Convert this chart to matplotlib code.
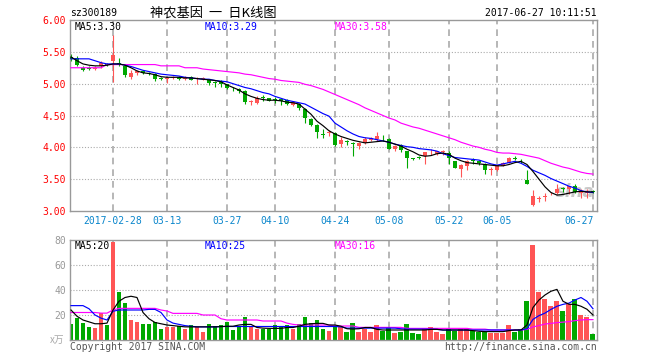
import matplotlib
matplotlib.use('Agg')
import matplotlib.pyplot as plt
import matplotlib.transforms as mtransforms
import numpy as np

# ---------------- data ----------------
opens = [5.42, 5.41, 5.25, 5.24, 5.23, 5.28, 5.31, 5.35, 5.33, 5.28,
         5.10, 5.16, 5.20, 5.17, 5.15, 5.09, 5.08, 5.09, 5.10, 5.08,
         5.10, 5.07, 5.07, 5.06, 5.03, 5.04, 4.99, 4.92, 4.92, 4.89,
         4.71, 4.70, 4.78, 4.77, 4.76, 4.76, 4.75, 4.67, 4.68, 4.60,
         4.44, 4.35, 4.20, 4.22, 4.23, 4.05, 4.09, 4.07, 4.02, 4.07,
         4.12, 4.13, 4.15, 4.13, 3.97, 4.03, 3.94, 3.83, 3.85, 3.86,
         3.92, 3.90, 3.92, 3.91, 3.78, 3.66, 3.71, 3.80, 3.79, 3.74,
         3.64, 3.65, 3.71, 3.76, 3.84, 3.82, 3.48, 3.09, 3.19, 3.22,
         3.26, 3.29, 3.35, 3.35, 3.39, 3.28, 3.29, 3.31]
closes = [5.38, 5.29, 5.22, 5.23, 5.25, 5.32, 5.29, 5.45, 5.31, 5.14,
          5.16, 5.20, 5.17, 5.15, 5.08, 5.08, 5.09, 5.11, 5.08, 5.09,
          5.06, 5.08, 5.09, 5.01, 5.01, 5.00, 4.93, 4.91, 4.88, 4.71,
          4.72, 4.78, 4.77, 4.73, 4.75, 4.73, 4.68, 4.71, 4.62, 4.46,
          4.35, 4.24, 4.19, 4.23, 4.04, 4.11, 4.08, 4.06, 4.07, 4.13,
          4.14, 4.18, 4.14, 3.98, 4.02, 3.96, 3.83, 3.82, 3.84, 3.92,
          3.93, 3.94, 3.94, 3.83, 3.68, 3.72, 3.79, 3.78, 3.75, 3.64,
          3.65, 3.72, 3.75, 3.84, 3.81, 3.81, 3.43, 3.23, 3.20, 3.24,
          3.27, 3.35, 3.34, 3.39, 3.30, 3.30, 3.30, 3.30]
highs = [5.46, 5.43, 5.28, 5.27, 5.27, 5.35, 5.33, 5.76, 5.40, 5.30,
         5.21, 5.22, 5.21, 5.18, 5.16, 5.10, 5.10, 5.12, 5.12, 5.12,
         5.12, 5.10, 5.10, 5.08, 5.04, 5.05, 5.00, 4.94, 4.93, 4.90,
         4.74, 4.81, 4.82, 4.78, 4.79, 4.76, 4.76, 4.72, 4.70, 4.61,
         4.46, 4.36, 4.29, 4.28, 4.24, 4.16, 4.12, 4.08, 4.08, 4.16,
         4.16, 4.24, 4.19, 4.15, 4.03, 4.05, 3.95, 3.84, 3.86, 3.93,
         3.97, 3.95, 3.96, 3.94, 3.79, 3.74, 3.80, 3.83, 3.80, 3.76,
         3.69, 3.73, 3.77, 3.85, 3.87, 3.82, 3.64, 3.33, 3.24, 3.28,
         3.30, 3.43, 3.38, 3.40, 3.43, 3.35, 3.34, 3.33]
lows = [5.36, 5.28, 5.20, 5.22, 5.22, 5.25, 5.27, 5.03, 5.27, 5.11,
        5.08, 5.14, 5.15, 5.13, 5.04, 5.06, 5.01, 5.07, 5.05, 5.06,
        5.05, 5.00, 5.05, 4.98, 4.95, 4.94, 4.92, 4.89, 4.85, 4.68,
        4.67, 4.68, 4.72, 4.72, 4.70, 4.67, 4.67, 4.65, 4.59, 4.39,
        4.33, 4.14, 4.15, 4.18, 4.02, 4.00, 4.03, 3.87, 3.97, 4.05,
        4.10, 4.10, 4.10, 3.97, 3.95, 3.93, 3.68, 3.80, 3.82, 3.74,
        3.88, 3.88, 3.88, 3.74, 3.67, 3.53, 3.64, 3.74, 3.73, 3.58,
        3.56, 3.63, 3.70, 3.75, 3.80, 3.76, 3.42, 3.08, 3.14, 3.16,
        3.25, 3.27, 3.30, 3.27, 3.28, 3.20, 3.20, 3.28]
volumes = [12.8, 17.9, 13.9, 10.7, 9.9, 21.3, 12.0, 78.7, 38.4, 29.9,
           16.0, 14.7, 12.8, 12.8, 14.4, 8.8, 10.7, 10.7, 11.2, 9.1,
           12.3, 10.7, 6.7, 12.8, 11.5, 12.0, 14.1, 8.0, 10.1, 18.1,
           10.7, 8.8, 8.8, 8.8, 12.0, 10.1, 12.0, 8.8, 12.8, 18.4,
           13.3, 16.0, 8.8, 7.2, 11.2, 10.1, 6.7, 13.3, 6.7, 8.5,
           6.7, 12.0, 7.5, 10.1, 5.9, 6.4, 12.8, 5.6, 4.8, 9.3,
           10.1, 6.7, 4.8, 8.8, 7.5, 8.8, 8.8, 7.5, 6.7, 6.7,
           5.9, 5.9, 5.9, 12.0, 6.7, 8.8, 31.2, 76.0, 38.4, 33.1,
           27.2, 31.2, 23.2, 28.8, 32.5, 20.0, 18.7, 4.8]
ma5 = [5.42, 5.36, 5.31, 5.29, 5.28, 5.28, 5.29, 5.31, 5.31, 5.29,
       5.25, 5.20, 5.17, 5.16, 5.14, 5.11, 5.10, 5.10, 5.10, 5.09,
       5.09, 5.08, 5.07, 5.06, 5.05, 5.03, 4.98, 4.94, 4.90, 4.84,
       4.80, 4.77, 4.75, 4.74, 4.74, 4.73, 4.71, 4.70, 4.68, 4.60,
       4.52, 4.41, 4.34, 4.26, 4.21, 4.17, 4.14, 4.11, 4.09, 4.07,
       4.08, 4.09, 4.10, 4.08, 4.05, 4.02, 3.97, 3.93, 3.88, 3.86,
       3.87, 3.90, 3.91, 3.89, 3.83, 3.79, 3.76, 3.75, 3.74, 3.73,
       3.72, 3.71, 3.71, 3.73, 3.76, 3.78, 3.73, 3.62, 3.50, 3.38,
       3.29, 3.25, 3.26, 3.28, 3.30, 3.31, 3.30, 3.30]
ma10 = [5.39, 5.39, 5.39, 5.39, 5.36, 5.33, 5.31, 5.31, 5.31, 5.29,
        5.27, 5.24, 5.21, 5.19, 5.17, 5.15, 5.14, 5.13, 5.12, 5.10,
        5.09, 5.08, 5.07, 5.07, 5.05, 5.04, 5.03, 5.00, 4.97, 4.94,
        4.92, 4.89, 4.86, 4.84, 4.80, 4.77, 4.74, 4.72, 4.70, 4.68,
        4.63, 4.58, 4.53, 4.49, 4.38, 4.32, 4.26, 4.21, 4.17, 4.15,
        4.14, 4.12, 4.10, 4.08, 4.05, 4.03, 4.01, 4.00, 3.98, 3.97,
        3.96, 3.94, 3.90, 3.87, 3.84, 3.83, 3.82, 3.81, 3.80, 3.77,
        3.74, 3.72, 3.74, 3.76, 3.78, 3.75, 3.70, 3.64, 3.60, 3.56,
        3.51, 3.47, 3.43, 3.39, 3.36, 3.32, 3.30, 3.29]
ma30 = [5.25, 5.25, 5.25, 5.25, 5.25, 5.25, 5.30, 5.30, 5.30, 5.30,
        5.30, 5.30, 5.30, 5.30, 5.30, 5.28, 5.28, 5.28, 5.28, 5.25,
        5.25, 5.25, 5.23, 5.22, 5.21, 5.20, 5.19, 5.18, 5.17, 5.15,
        5.14, 5.12, 5.10, 5.08, 5.07, 5.05, 5.04, 5.03, 5.02, 4.99,
        4.97, 4.94, 4.91, 4.87, 4.83, 4.79, 4.75, 4.71, 4.67, 4.62,
        4.58, 4.54, 4.50, 4.46, 4.43, 4.38, 4.35, 4.32, 4.30, 4.27,
        4.24, 4.21, 4.18, 4.15, 4.12, 4.08, 4.05, 4.02, 4.00, 3.97,
        3.95, 3.92, 3.91, 3.91, 3.90, 3.89, 3.87, 3.85, 3.83, 3.79,
        3.75, 3.72, 3.69, 3.67, 3.64, 3.61, 3.59, 3.58]
vma5 = [24.0, 19.0, 16.0, 14.5, 13.0, 13.0, 13.5, 24.0, 31.0, 34.0,
        35.0, 34.0, 22.0, 17.0, 14.0, 13.0, 12.0, 11.5, 11.0, 10.5,
        10.5, 10.5, 10.5, 10.5, 10.5, 10.7, 11.0, 11.0, 12.0, 12.5,
        12.5, 10.0, 9.5, 9.3, 9.3, 9.3, 10.0, 10.0, 11.0, 12.5,
        13.0, 13.3, 13.3, 12.0, 12.0, 11.0, 9.0, 8.8, 9.0, 10.0,
        10.0, 8.5, 8.0, 8.0, 8.0, 8.0, 8.0, 8.0, 8.0, 8.0,
        8.5, 8.5, 8.0, 8.0, 8.0, 8.0, 8.0, 7.5, 7.0, 6.7,
        6.7, 6.7, 6.7, 7.5, 8.0, 8.0, 12.0, 26.0, 32.0, 36.0,
        39.0, 40.5, 31.0, 28.6, 28.5, 27.0, 24.6, 20.0]
vma10 = [27.5, 27.5, 27.5, 25.0, 20.0, 17.5, 16.0, 23.0, 24.0, 24.0,
         24.0, 24.0, 24.0, 24.5, 24.5, 22.0, 16.0, 13.5, 12.5, 11.5,
         11.0, 10.5, 10.5, 10.5, 10.5, 10.8, 10.8, 10.8, 10.8, 10.8,
         10.8, 10.8, 10.8, 10.8, 10.8, 10.8, 10.8, 10.8, 10.8, 10.8,
         10.8, 10.8, 10.8, 10.8, 10.8, 10.5, 9.5, 9.5, 9.5, 9.5,
         9.5, 9.5, 9.5, 9.5, 9.5, 9.0, 8.7, 8.7, 8.7, 8.7,
         8.7, 8.5, 8.0, 8.0, 8.0, 8.0, 8.0, 8.0, 8.0, 8.0,
         8.0, 8.0, 8.0, 8.0, 8.0, 8.0, 9.0, 16.5, 19.5, 21.5,
         24.5, 27.0, 28.5, 29.5, 32.0, 34.0, 31.0, 25.0]
vma30 = [22.0, 22.0, 22.0, 22.0, 22.0, 21.5, 21.5, 24.0, 25.3, 25.3,
         25.3, 25.3, 25.3, 25.3, 25.3, 24.0, 23.2, 21.3, 21.3, 21.3,
         21.3, 21.3, 20.0, 20.0, 20.0, 17.0, 16.0, 16.0, 16.0, 16.0,
         16.0, 16.0, 15.2, 15.2, 15.2, 15.2, 13.5, 12.5, 12.0, 12.0,
         12.0, 12.0, 12.0, 12.0, 11.2, 11.2, 11.2, 11.2, 10.1, 10.1,
         10.1, 10.1, 10.1, 10.1, 10.1, 10.1, 9.3, 9.3, 9.3, 9.3,
         9.3, 9.3, 9.3, 9.3, 9.3, 9.3, 9.3, 8.7, 8.7, 8.7,
         8.0, 8.0, 8.0, 8.0, 8.0, 8.0, 8.5, 10.5, 11.5, 12.8,
         13.3, 13.9, 14.3, 14.7, 15.5, 16.0, 16.3, 16.3]
date_labels = ['2017-02-28', '03-13', '03-27', '04-10', '04-24',
               '05-08', '05-22', '06-05', '06-27']
date_idx = [7, 16, 26, 34, 44, 53, 63, 71, 87]
price_ticks = [3.0, 3.5, 4.0, 4.5, 5.0, 5.5, 6.0]
vol_ticks = [20, 40, 60, 80]
stock_code = 'sz300189'
title = '神农基因  一  日K线图'
timestamp = '2017-06-27 10:11:51'

# ---------------- style ----------------
RED = '#ff5555'
GREEN = '#00a800'
GRID = '#aaaaaa'
SPINE = '#999999'
BLUE_TXT = '#0a86cc'
MONO = 'DejaVu Sans Mono'
CJK = ['Noto Sans CJK SC', 'DejaVu Sans']

W, H = 660, 360
fig = plt.figure(figsize=(W / 100, H / 100), dpi=100)
fig.patch.set_facecolor('white')


def rect(l, t, r, b):
    return [l / W, 1 - b / H, (r - l) / W, (b - t) / H]


def fx(px):
    return px / W


def fy(py):
    return 1 - py / H


axp = fig.add_axes(rect(70, 20, 597, 211))
axv = fig.add_axes(rect(70, 240, 597, 340))

n = len(closes)
x = np.arange(n)
o = np.array(opens)
c = np.array(closes)
hi = np.array(highs)
lo = np.array(lows)
up = c > o
cols = [RED if u else GREEN for u in up]

xlim = (-1 / 6, 87.67)

for ax in (axp, axv):
    ax.set_xlim(*xlim)
    for s in ax.spines.values():
        s.set_color(SPINE)
        s.set_linewidth(1.0)
    ax.tick_params(length=0)
    ax.set_xticks([])
    for xi in date_idx:
        ax.axvline(xi, color=GRID, lw=1.2, ls=(0, (4, 3)), zorder=0)

# price panel
axp.set_ylim(3.0, 6.0)
for yv in price_ticks[1:-1]:
    axp.axhline(yv, color=GRID, lw=0.8, ls=(0, (1, 1.6)), zorder=0)
axp.set_yticks(price_ticks)
axp.set_yticklabels(['%.2f' % v for v in price_ticks], color='red',
                    fontsize=7, family=MONO)
axp.tick_params(axis='y', pad=3)

axp.vlines(x, lo, hi, colors=cols, lw=0.8, zorder=2)
body_h = np.maximum(np.abs(c - o), 0.014)
body_b = np.minimum(o, c)
axp.bar(x, body_h, bottom=body_b, width=0.8, color=cols, lw=0, zorder=3)

axp.plot(x, ma30, color='#ff00ff', lw=0.85, zorder=4)
axp.plot(x, ma10, color='#0000ff', lw=0.85, zorder=5)
axp.plot(x, ma5, color='black', lw=0.85, zorder=6)

axp.text(0.0095, 0.965, 'MA5:%.2f' % ma5[-1], transform=axp.transAxes,
         fontsize=7, family=MONO, color='black', va='center', ha='left')
axp.text((205 - 70) / 527, 0.965, 'MA10:%.2f' % ma10[-1], transform=axp.transAxes,
         fontsize=7, family=MONO, color='#0000ff', va='center', ha='left')
axp.text((335 - 70) / 527, 0.965, 'MA30:%.2f' % ma30[-1], transform=axp.transAxes,
         fontsize=7, family=MONO, color='#ff00ff', va='center', ha='left')

# sina watermark
axp.text(0.995, 0.05, 'sina', transform=axp.transAxes, fontsize=12,
         fontweight='bold', style='italic', color='#c8c8c8', ha='right',
         va='bottom', zorder=1, family='DejaVu Sans')

# date labels
trans = mtransforms.blended_transform_factory(axp.transData, fig.transFigure)
for lab, xi in zip(date_labels, date_idx):
    ha = 'right' if xi == date_idx[-1] else 'center'
    xx = xi + 0.05 if ha == 'right' else xi
    axp.text(xx, fy(221), lab, transform=trans, fontsize=7, family=MONO,
             color=BLUE_TXT, ha=ha, va='center')

# volume panel
axv.set_ylim(0, 80)
for yv in vol_ticks[:-1]:
    axv.axhline(yv, color=GRID, lw=0.8, ls=(0, (1, 1.6)), zorder=0)
axv.set_yticks(vol_ticks)
axv.set_yticklabels([str(v) for v in vol_ticks], color='#999999',
                    fontsize=7, family=MONO)
axv.tick_params(axis='y', pad=3)
axv.bar(x, volumes, width=0.83, color=cols, lw=0, zorder=2)
axv.plot(x, vma30, color='#ff00ff', lw=0.85, zorder=4)
axv.plot(x, vma10, color='#0000ff', lw=0.85, zorder=5)
axv.plot(x, vma5, color='black', lw=0.85, zorder=6)
axv.text(0.0095, 0.94, 'MA5:%d' % round(vma5[-1]), transform=axv.transAxes,
         fontsize=7, family=MONO, color='black', va='center', ha='left')
axv.text((205 - 70) / 527, 0.94, 'MA10:%d' % round(vma10[-1]), transform=axv.transAxes,
         fontsize=7, family=MONO, color='#0000ff', va='center', ha='left')
axv.text((335 - 70) / 527, 0.94, 'MA30:%d' % round(vma30[-1]), transform=axv.transAxes,
         fontsize=7, family=MONO, color='#ff00ff', va='center', ha='left')

# header & footer texts
fig.text(fx(70), fy(13), stock_code, fontsize=7, family=MONO, color='black',
         ha='left', va='center')
fig.text(fx(213), fy(13), title, fontsize=9.5, family=CJK, color='black',
         ha='center', va='center')
fig.text(fx(597), fy(13), timestamp, fontsize=7, family=MONO, color='black',
         ha='right', va='center')
fig.text(fx(64), fy(340), 'x万', fontsize=7, family=CJK, color='#aaaaaa',
         ha='right', va='center')
fig.text(fx(70), fy(347), 'Copyright 2017 SINA.COM', fontsize=7, family=MONO,
         color='#555555', ha='left', va='center')
fig.text(fx(597), fy(347), 'http://finance.sina.com.cn', fontsize=7, family=MONO,
         color='#555555', ha='right', va='center')

fig.savefig('out.png', dpi=100, facecolor='white')
